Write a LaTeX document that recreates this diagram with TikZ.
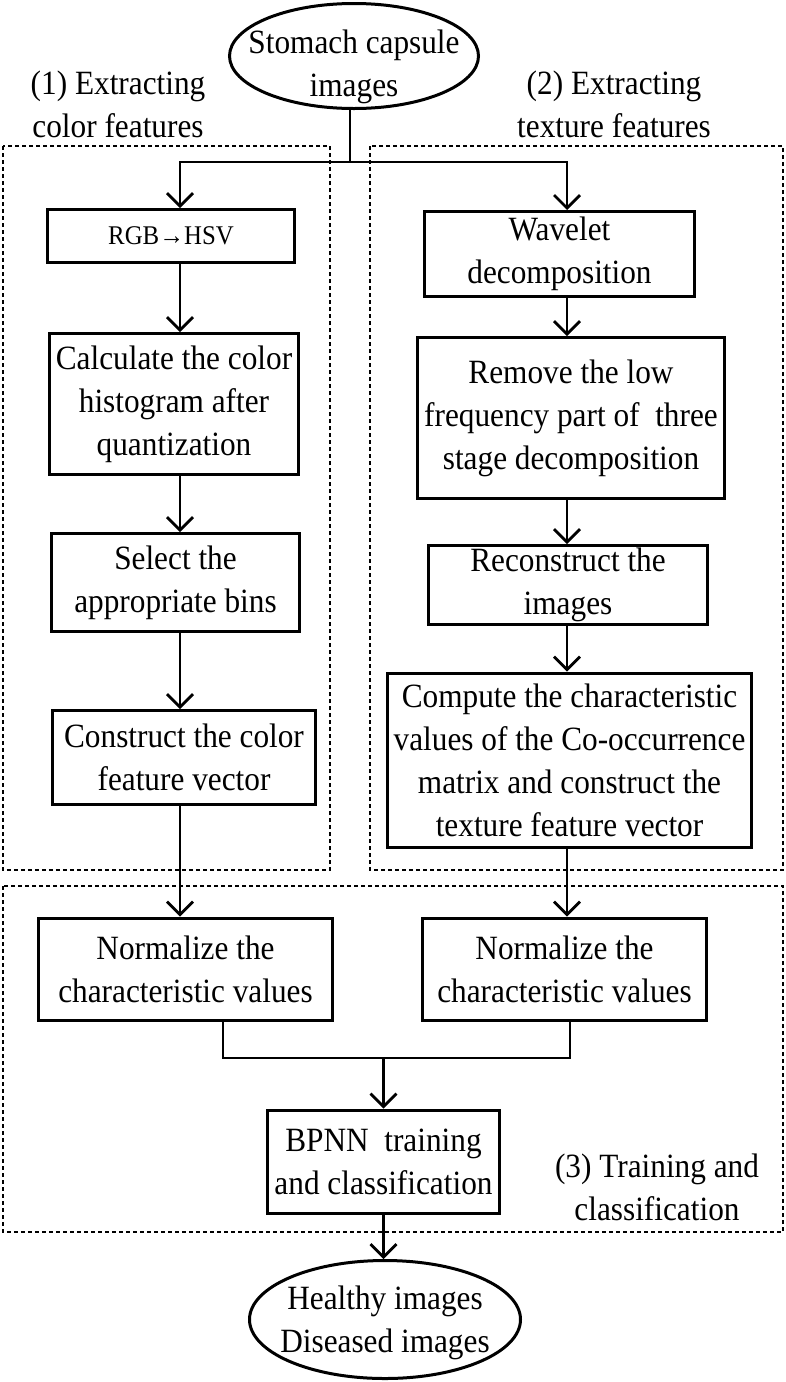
\documentclass[tikz,border=0pt]{standalone}
\usepackage{fontspec}
\setmainfont{Liberation Serif}[FakeStretch=0.92]
\usetikzlibrary{shapes.geometric,arrows.meta}

\begin{document}
\begin{tikzpicture}[x=1pt, y=-1pt, line width=2.7pt,
    block/.style={rectangle, draw, line width=3pt, align=center, inner sep=0pt,
    font=\fontsize{34}{43}\selectfont},
    oval/.style={ellipse, draw, line width=3pt, inner sep=0pt},
    group/.style={draw, line width=2.8pt, dash pattern=on 4pt off 3pt},
    caption/.style={align=center, inner sep=0pt, font=\fontsize{34}{43}\selectfont},
    >={Straight Barb[length=13pt,width=26pt,line width=2.7pt]}]
    \useasboundingbox (0,0) rectangle (785,1382);
    \draw[group] (3,146) rectangle (330,870);
    \draw[group] (370,146) rectangle (783,870);
    \draw[group] (3,886) rectangle (783,1232);
    \node[oval,minimum width=249pt,minimum height=105pt] (src) at (354,56) {};
    \node[caption] (srcText) at (354,67) {Stomach capsule\\images};
    \node[caption] (lblA) at (118,104) {(1) Extracting\\color features};
    \node[caption] (lblB) at (614,104) {(2) Extracting\\texture features};
    \node[block,minimum width=247pt,minimum height=53pt,font=\fontsize{27}{32}\selectfont] (rgb) at (171,236) {RGB→HSV};
    \node[block,minimum width=249pt,minimum height=141pt] (hist) at (174,404) {Calculate the color\\histogram after\\quantization};
    \node[block,minimum width=248pt,minimum height=98pt] (bins) at (175.5,582.5) {Select the\\appropriate bins};
    \node[block,minimum width=263pt,minimum height=94pt] (cvec) at (184,757.5) {Construct the color\\feature vector};
    \node[block,minimum width=270pt,minimum height=85pt] (wav) at (559.5,254) {Wavelet\\decomposition};
    \node[block,minimum width=307pt,minimum height=161pt] (low) at (571,418) {Remove the low\\frequency part of\ \ three\\stage decomposition};
    \node[block,minimum width=279pt,minimum height=79pt] (rec) at (568,585) {Reconstruct the\\images};
    \node[block,minimum width=364pt,minimum height=174pt] (tvec) at (569.5,760) {Compute the characteristic\\values of the Co-occurrence\\matrix and construct the\\texture feature vector};
    \node[block,minimum width=294pt,minimum height=102pt] (normA) at (185.5,969) {Normalize the\\characteristic values};
    \node[block,minimum width=284pt,minimum height=102pt] (normB) at (564.5,969) {Normalize the\\characteristic values};
    \node[block,minimum width=232pt,minimum height=103pt] (bpnn) at (383.5,1161.5) {BPNN\ \ training\\and classification};
    \node[caption] (lblC) at (657,1187) {(3) Training and\\classification};
    \node[oval,minimum width=271pt,minimum height=118pt] (out) at (385,1319.5) {};
    \node[caption] (outText) at (385,1323) {Healthy images\\Diseased images};
    % splitting into the two branches
    \coordinate (split) at (350,162);
    \coordinate (colL) at (180,0);
    \coordinate (colR) at (567,0);
    \draw (src.south -| split) -- (split);
    \draw[->] (split) -| (colL |- rgb.north);
    \draw[->] (split) -| (colR |- wav.north);
    \draw[->] (rgb.south -| colL) -- (hist.north -| colL);
    \draw[->] (hist.south -| colL) -- (bins.north -| colL);
    \draw[->] (bins.south -| colL) -- (cvec.north -| colL);
    \draw[->] (cvec.south -| colL) -- (normA.north -| colL);
    \draw[->] (wav.south -| colR) -- (low.north -| colR);
    \draw[->] (low.south -| colR) -- (rec.north -| colR);
    \draw[->] (rec.south -| colR) -- (tvec.north -| colR);
    \draw[->] (tvec.south -| colR) -- (normB.north -| colR);
    % merging
    \coordinate (joinL) at (223,1058);
    \coordinate (joinR) at (570,1058);
    \draw (normA.south -| joinL) -- (joinL) -- (joinR) -- (normB.south -| joinR);
    \draw[->] (joinL -| bpnn) -- (bpnn.north);
    \draw[->] (bpnn.south) -- (bpnn.south |- out.north);
\end{tikzpicture}
\end{document}
